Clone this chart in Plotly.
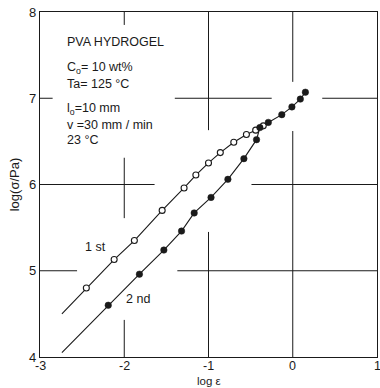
import plotly.graph_objects as go

# log strain and log stress for the first and second loading of the gel
first_log_eps = [-2.45, -2.12, -1.88, -1.55, -1.29, -1.15, -1.00, -0.86, -0.70, -0.55, -0.44, -0.35]
first_log_sig = [4.80, 5.13, 5.35, 5.70, 5.96, 6.11, 6.25, 6.37, 6.49, 6.58, 6.63, 6.68]
second_log_eps = [-2.19, -1.82, -1.53, -1.32, -1.17, -0.97, -0.77, -0.58, -0.43, -0.39, -0.29, -0.13, -0.01, 0.09, 0.15]
second_log_sig = [4.60, 4.96, 5.24, 5.46, 5.67, 5.85, 6.06, 6.30, 6.52, 6.66, 6.72, 6.81, 6.90, 6.99, 7.07]

# where each drawn curve begins, below the first measured point
first_curve_start = (-2.74, 4.50)
second_curve_start = (-2.74, 4.05)

x_ticks = [-3, -2, -1, 0, 1]
x_tick_labels = ["-3", "-2", "-1", "0", "1"]
y_ticks = [4, 5, 6, 7, 8]
y_tick_labels = ["4", "5", "6", "7", "8"]

INK = "#1a1a1a"
FONT = "Liberation Sans"

fig = go.Figure()

# smooth curves through the points
fig.add_trace(go.Scatter(
    x=[first_curve_start[0]] + first_log_eps,
    y=[first_curve_start[1]] + first_log_sig,
    mode="lines", line=dict(color=INK, width=1.1), hoverinfo="skip", showlegend=False))
fig.add_trace(go.Scatter(
    x=[second_curve_start[0]] + second_log_eps,
    y=[second_curve_start[1]] + second_log_sig,
    mode="lines", line=dict(color=INK, width=1.1), hoverinfo="skip", showlegend=False))

# markers: open circles for the first run, filled for the second
fig.add_trace(go.Scatter(
    x=first_log_eps, y=first_log_sig, mode="markers", name="1st",
    marker=dict(symbol="circle", size=6, color="white", line=dict(color=INK, width=1.1)),
    showlegend=False))
fig.add_trace(go.Scatter(
    x=second_log_eps, y=second_log_sig, mode="markers", name="2nd",
    marker=dict(symbol="circle", size=6.5, color=INK, line=dict(color=INK, width=0.5)),
    showlegend=False))

# broken grid lines that stop short of the text and the data
grid_segments = [
    # horizontal: y, x0, x1
    ("h", 5, -3.0, -2.56), ("h", 5, -1.37, 1.0),
    ("h", 6, -3.0, -1.64), ("h", 6, -0.49, 1.0),
    ("h", 7, -3.0, -2.85), ("h", 7, -1.40, -0.25), ("h", 7, 0.35, 1.0),
    # vertical: x, y0, y1
    ("v", -2, 7.85, 8.0), ("v", -2, 5.61, 6.31), ("v", -2, 4.0, 4.43),
    ("v", -1, 6.63, 8.0), ("v", -1, 4.0, 5.45),
    ("v", 0, 7.19, 8.0), ("v", 0, 4.0, 6.62),
]
for kind, c, a, b in grid_segments:
    if kind == "h":
        fig.add_shape(type="line", xref="x", yref="y", x0=a, x1=b, y0=c, y1=c,
                      line=dict(color=INK, width=1), layer="below")
    else:
        fig.add_shape(type="line", xref="x", yref="y", x0=c, x1=c, y0=a, y1=b,
                      line=dict(color=INK, width=1), layer="below")

text_font = dict(family=FONT, size=12.5, color=INK)
notes = [
    ("PVA HYDROGEL", -2.70, 7.65),
    ("C<sub>o</sub>= 10 wt%", -2.70, 7.35),
    ("Ta= 125 °C", -2.70, 7.17),
    ("l<sub>o</sub>=10 mm", -2.70, 6.87),
    ("v =30 mm / min", -2.70, 6.69),
    ("23 °C", -2.70, 6.52),
    ("1 st", -2.49, 5.28),
    ("2 nd", -2.00, 4.67),
]
for txt, x, y in notes:
    fig.add_annotation(text=txt, x=x, y=y, xref="x", yref="y", showarrow=False,
                       xanchor="left", yanchor="middle", font=text_font)

# x tick labels placed tight under the frame
for v, lab in zip(x_ticks, x_tick_labels):
    fig.add_annotation(text=lab, x=v, y=0, xref="x", yref="paper", showarrow=False,
                       xanchor="center", yanchor="top", yshift=-1, borderpad=0,
                       font=dict(family=FONT, size=12.5, color=INK))

# x-axis title at the foot of the figure
fig.add_annotation(text="log ε", x=0.5, y=-0.089, xref="paper", yref="paper",
                   showarrow=False, xanchor="center", yanchor="bottom", borderpad=0,
                   font=dict(family=FONT, size=11.5, color=INK))

axis_common = dict(showgrid=False, zeroline=False, showline=True, linecolor=INK,
                   linewidth=1.2, mirror=True, ticks="")

fig.update_xaxes(range=[-3, 1], tickvals=x_ticks, showticklabels=False, **axis_common)
fig.update_yaxes(range=[4, 8], tickvals=y_ticks, ticktext=y_tick_labels,
                 tickfont=dict(family=FONT, size=13, color=INK),
                 title=dict(text="log(σ/Pa)", font=dict(family=FONT, size=13, color=INK), standoff=6),
                 **axis_common)

fig.update_layout(
    width=380, height=388,
    margin=dict(l=40, r=3, t=12, b=31, autoexpand=False),
    paper_bgcolor="white", plot_bgcolor="white",
    font=dict(family=FONT, color=INK),
)

fig.write_html("out.html")
